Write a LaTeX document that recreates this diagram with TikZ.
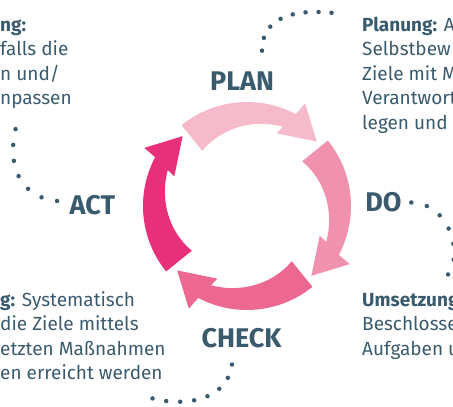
\documentclass[tikz,border=0pt]{standalone}
\usepackage{fontspec}
\setmainfont{Fira Sans}
\usetikzlibrary{positioning, calc}
\definecolor{slate}{RGB}{58, 91, 110}
\definecolor{planpink}{RGB}{246, 187, 203}
\definecolor{dopink}{RGB}{240, 146, 174}
\definecolor{checkpink}{RGB}{236, 104, 145}
\definecolor{actpink}{RGB}{232, 48, 122}

\begin{document}
\begin{tikzpicture}[x=1pt, y=1pt,
  phase/.style={font=\bfseries\fontsize{27}{30}\selectfont, text=slate, inner sep=0pt},
  note/.style={font=\fontsize{19}{24.5}\selectfont, text=slate, align=left, inner sep=0pt, anchor=north west},
  dotline/.style={draw=slate, line width=4.5pt, line cap=round, dash pattern=on 0pt off #1},
  dotline/.default=15pt,
  cycle arrow/.style={insert path={(129:104) arc[start angle=129, end angle=62, radius=104]
    -- (60.5:118) -- (42.7:95) -- (67.8:78.5) -- (65.6:87)
    -- plot[domain=65.6:129, samples=30, variable=\t] (\t:{87-16*(\t-65.6)/63.4}) -- cycle}}]
  \useasboundingbox (-247,-201) rectangle (206,206);
  \clip (-247,-201) rectangle (206,206);

  % cycle of four arrows
  \fill[planpink, cycle arrow];
  \fill[dopink, rotate=-90, cycle arrow];
  \fill[checkpink, rotate=-180, cycle arrow];
  \fill[actpink, rotate=-270, cycle arrow];

  % phase labels
  \node[phase] (plan) at (-5, 124.8) {PLAN};
  \node[phase] (do) at (136.5, 3.5) {DO};
  \node[phase] (check) at (-5.5, -132.5) {CHECK};
  \node[phase] (act) at (-154.5, 1) {ACT};

  % notes at the corners
  \node[note] (actnote) at (-247, 192.2) {\strut\textbf{ng:}\\falls die\\n und/\\npassen};
  \node[note] (plannote) at (115, 192.2) {\strut\textbf{Planung:} A\\Selbstbew\\Ziele mit M\\Verantwort\\legen und};
  \node[note] (checknote) at (-247, -82.9) {\strut\textbf{g:} Systematisch\\die Ziele mittels\\etzten Maßnahmen\\en erreicht werden};
  \node[note] (donote) at (115, -82.9) {\strut\textbf{Umsetzung:}\\Beschlosse\\Aufgaben u};

  % dotted leaders
  \coordinate (planend) at (94, 192);
  \coordinate (doend) at (200, -70);
  \coordinate (checkend) at (-96, -192);
  \coordinate (actend) at (-231, 79);
  \draw[dotline=13pt] ([xshift=20pt, yshift=21pt]plan.north) .. controls +(0, 44.6) and +(-22.7, 3.4) .. (planend);
  \draw[dotline=16pt] ([xshift=9.5pt]do.east) .. controls +(39, -1) and +(17, 20) .. (doend);
  \draw[dotline=14pt] ([xshift=-9.5pt, yshift=-16pt]check.south) .. controls +(-6, -40) and +(26, -7.8) .. (checkend);
  \draw[dotline=16pt] ([xshift=-12.5pt, yshift=4pt]act.west) .. controls +(-37, 3.7) and +(-9.6, -38.4) .. (actend);
\end{tikzpicture}
\end{document}
